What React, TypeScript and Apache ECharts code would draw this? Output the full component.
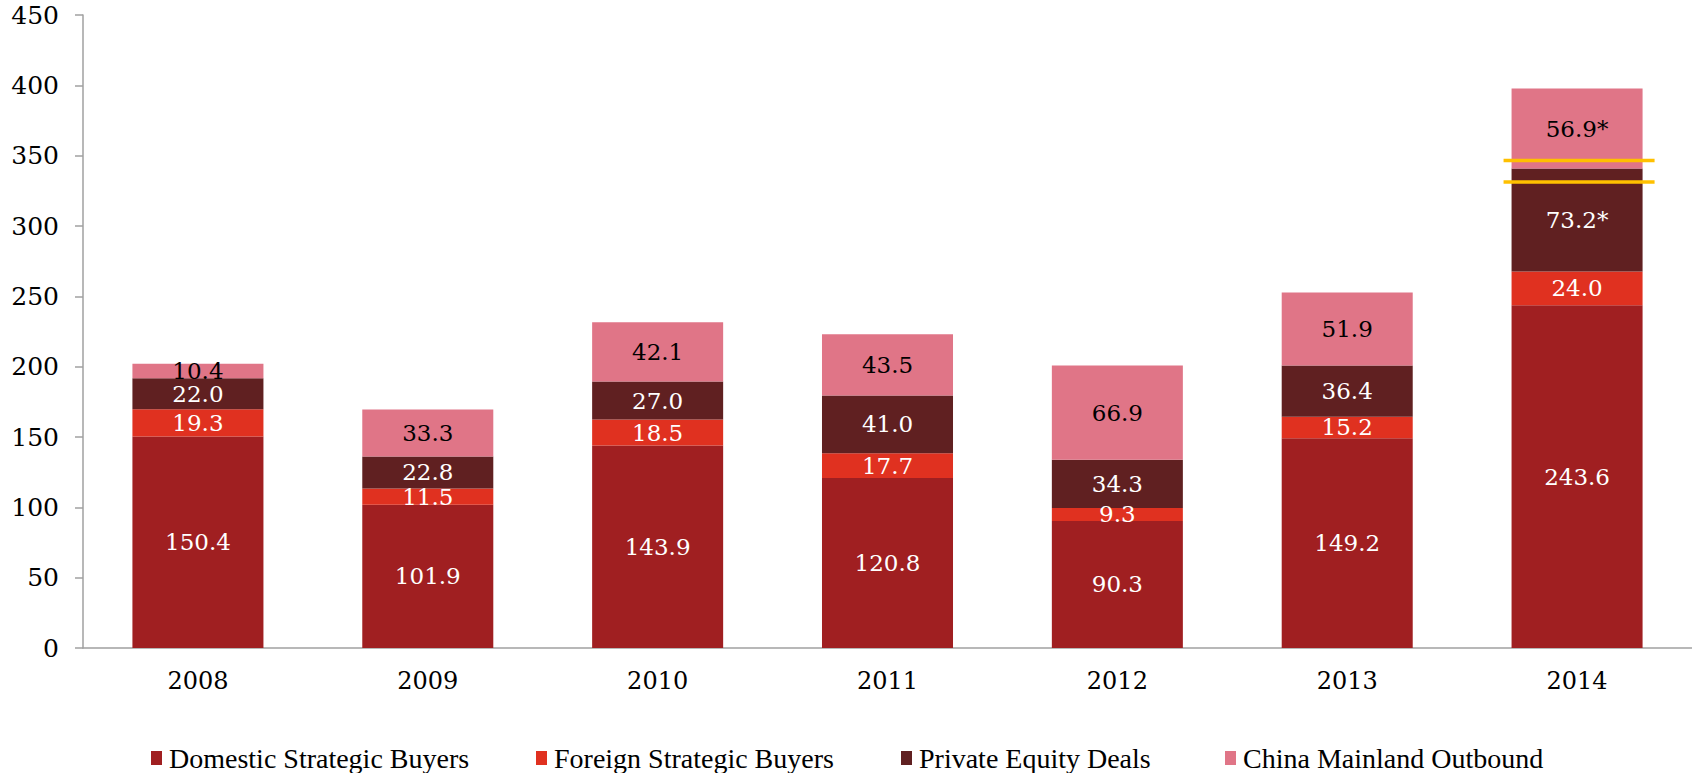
import React, { useEffect, useRef } from "react";
import * as echarts from "echarts";

const years = ["2008", "2009", "2010", "2011", "2012", "2013", "2014"];
const domestic = [150.4, 101.9, 143.9, 120.8, 90.3, 149.2, 243.6];
const foreign = [19.3, 11.5, 18.5, 17.7, 9.3, 15.2, 24.0];
const privateEquity = [22.0, 22.8, 27.0, 41.0, 34.3, 36.4, 73.2];
const outbound = [10.4, 33.3, 42.1, 43.5, 66.9, 51.9, 56.9];
const starred = ["2014"];
const breakLines = [
  ["2014", 346.5],
  ["2014", 331.3],
];
const yTicks = { min: 0, max: 450, interval: 50 };

const seriesNames = [
  "Domestic Strategic Buyers",
  "Foreign Strategic Buyers",
  "Private Equity Deals",
  "China Mainland Outbound",
];
const colors = ["#A01F21", "#E03120", "#602021", "#E07587"];
const labelColors = ["#ffffff", "#ffffff", "#ffffff", "#000000"];
const starredSeries = [false, false, true, true];

const NUM_FONT = "'DejaVu Serif', Georgia, serif";
const LEG_FONT = "'Liberation Serif', 'Times New Roman', serif";

export default function App() {
  const ref = useRef<HTMLDivElement>(null);
  useEffect(() => {
    if (!ref.current) return;
    const chart = echarts.init(ref.current, undefined, { renderer: "svg" });
    const dataSets = [domestic, foreign, privateEquity, outbound];
    const barSeries = dataSets.map((d, i) => ({
      name: seriesNames[i],
      type: "bar",
      stack: "total",
      barWidth: "57%",
      data: d,
      itemStyle: { color: colors[i] },
      label: {
        show: true,
        position: "inside",
        color: labelColors[i],
        fontFamily: NUM_FONT,
        fontSize: 23,
        formatter: (p: any) =>
          p.value.toFixed(1) +
          (starredSeries[i] && starred.includes(p.name) ? "*" : ""),
      },
    }));
    const legendLefts = [151, 536, 901, 1225];
    chart.setOption({
      animation: false,
      grid: { left: 83, right: 0, top: 15, bottom: 125, containLabel: false },
      legend: seriesNames.map((n, i) => ({
        data: [n],
        left: legendLefts[i],
        top: 744,
        padding: 0,
        itemWidth: 11,
        itemHeight: 14,
        itemGap: 0,
        icon: "rect",
        textStyle: {
          fontFamily: LEG_FONT,
          fontSize: 28,
          lineHeight: 28,
          color: "#000",
          padding: [0, 0, 0, 2],
        },
        selectedMode: false,
      })),
      xAxis: {
        type: "category",
        data: years,
        axisLine: { lineStyle: { color: "#A0A0A0", width: 1.5 } },
        axisTick: { show: false },
        axisLabel: {
          color: "#000",
          fontFamily: NUM_FONT,
          fontSize: 24,
          margin: 21,
        },
      },
      yAxis: {
        type: "value",
        min: yTicks.min,
        max: yTicks.max,
        interval: yTicks.interval,
        splitLine: { show: false },
        axisLine: { show: true, lineStyle: { color: "#A0A0A0", width: 1.5 } },
        axisTick: { show: true, length: 8, lineStyle: { color: "#A0A0A0", width: 1.5 } },
        axisLabel: {
          color: "#000",
          fontFamily: NUM_FONT,
          fontSize: 25,
          margin: 24,
        },
      },
      series: [
        ...barSeries,
        {
          type: "custom",
          name: "break",
          data: breakLines,
          z: 10,
          silent: true,
          renderItem: (params: any, api: any) => {
            const pt = api.coord([api.value(0), api.value(1)]);
            const bw = api.size([1, 0])[0] * 0.57;
            return {
              type: "line",
              shape: {
                x1: pt[0] - bw / 2 - 8,
                y1: pt[1],
                x2: pt[0] + bw / 2 + 12,
                y2: pt[1],
              },
              style: { stroke: "#FFC000", lineWidth: 3.5 },
            };
          },
        },
      ],
    });
    return () => chart.dispose();
  }, []);
  return (
    <div
      ref={ref}
      style={{ width: 1692, height: 773, position: "absolute", left: 0, top: 0 }}
    />
  );
}
